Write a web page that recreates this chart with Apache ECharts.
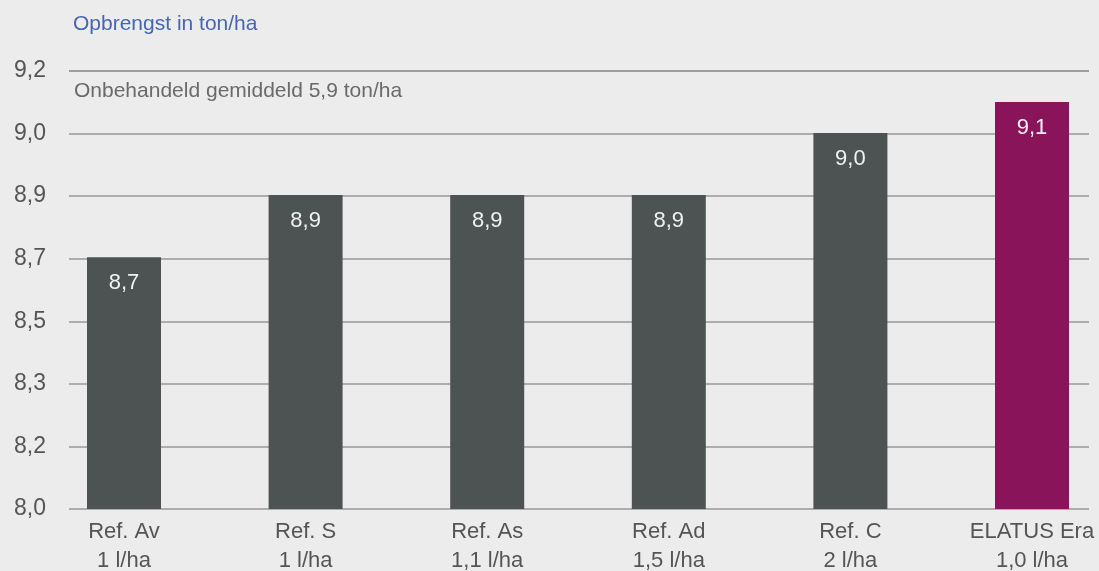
<!DOCTYPE html>
<html>
<head>
<meta charset="utf-8">
<script src="https://cdn.jsdelivr.net/npm/echarts@6/dist/echarts.min.js"></script>
<style>
html,body{margin:0;padding:0;background:#ececec;}
#c{width:1099px;height:571px;}
</style>
</head>
<body>
<div id="c"></div>
<script>
const categories = ['Ref. Av\n1 l/ha', 'Ref. S\n1 l/ha', 'Ref. As\n1,1 l/ha', 'Ref. Ad\n1,5 l/ha', 'Ref. C\n2 l/ha', 'ELATUS Era\n1,0 l/ha'];
const yields = [8.69, 8.86, 8.86, 8.86, 9.03, 9.115];
const barColors = ['#4d5352', '#4d5352', '#4d5352', '#4d5352', '#4d5352', '#8a1459'];
const yMin = 8.0;
const yMax = 9.2;
const yStep = (yMax - yMin) / 7;
const titleText = 'Opbrengst in ton/ha';
const noteText = 'Onbehandeld gemiddeld 5,9 ton/ha';

const fmt = v => v.toFixed(1).replace('.', ',');
const font = 'Liberation Sans, Arial, Helvetica, sans-serif';

const chart = echarts.init(document.getElementById('c'), null, {renderer: 'canvas'});
chart.setOption({
  backgroundColor: '#ececec',
  animation: false,
  textStyle: {fontFamily: font},
  title: [
    {text: titleText, left: 68, top: 9, textStyle: {color: '#4466b4', fontSize: 21, fontWeight: 'normal', fontFamily: font}},
    {text: noteText, left: 69, top: 76, textStyle: {color: '#6a6a6a', fontSize: 21, fontWeight: 'normal', fontFamily: font}}
  ],
  grid: [
    {left: 124, right: 67, top: 71, height: 438, containLabel: false, outerBoundsMode: 'none'},
    {left: 69, right: 10, top: 71, height: 438, containLabel: false, outerBoundsMode: 'none'}
  ],
  xAxis: [
    {
      type: 'category', gridIndex: 0, data: categories, boundaryGap: false,
      axisLine: {show: false}, axisTick: {show: false},
      axisLabel: {color: '#555', fontSize: 22, lineHeight: 29, margin: 8, fontFamily: font, interval: 0}
    },
    {type: 'category', gridIndex: 1, data: categories, show: false}
  ],
  yAxis: [
    {type: 'value', gridIndex: 0, min: yMin, max: yMax, interval: yStep, show: false, splitLine: {show: false}},
    {
      type: 'value', gridIndex: 1, min: yMin, max: yMax, interval: yStep,
      axisLine: {show: false}, axisTick: {show: false},
      splitLine: {show: true, lineStyle: {color: '#999', width: 1.5}},
      axisLabel: {color: '#555', fontSize: 23, margin: 23, fontFamily: font, formatter: v => fmt(v)}
    }
  ],
  series: [
    {
      type: 'bar', xAxisIndex: 0, yAxisIndex: 0, barWidth: 74,
      data: yields.map((v, i) => ({value: v, itemStyle: {color: barColors[i]}})),
      label: {show: true, position: 'insideTop', distance: 15, color: '#f0f0f0', fontSize: 22, fontFamily: font, formatter: p => fmt(p.value)},
      z: 3
    },
    {type: 'line', xAxisIndex: 1, yAxisIndex: 1, data: [], silent: true}
  ]
});
</script>
</body>
</html>
